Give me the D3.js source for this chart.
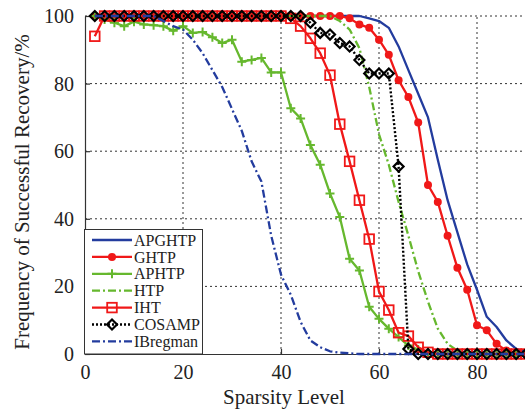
<!DOCTYPE html>
<html>
<head>
<meta charset="utf-8">
<script src="https://cdn.jsdelivr.net/npm/d3@7"></script>
<style>
body { margin: 0; background: #fff; }
svg { display: block; }
text { font-family: "Liberation Serif", "Times New Roman", serif; fill: #222; }
</style>
</head>
<body>
<svg id="chart" width="525" height="417"></svg>
<script>
// sparsity levels (x)
const sparsity = [2,4,6,8,10,12,14,16,18,20,22,24,26,28,30,32,34,36,38,40,42,44,46,48,50,52,54,56,58,60,62,64,66,68,70,72,74,76,78,80,82,84,86,88,90];

// frequency of successful recovery, %
const apghtp = [100,100,100,100,100,100,100,100,100,100,100,100,100,100,100,100,100,100,100,100,100,100,100,100,100,100,100,100,99.3,98.5,96.5,91,84,77,70,57.5,45.5,36,26.5,19,11,8,4,1.5,0.5];
const ghtp = [100,100,100,100,100,100,100,100,100,100,100,100,100,100,100,100,100,100,100,100,100,100,100,100,100,100,99.3,97.5,96.5,93,88.5,81,76,68.5,50,45,35,25.5,19,8.5,7,3,1,0.3,0];
const aphtp = [100,99,98,97,98.3,97.5,97.3,97,95.6,97,95,95.3,93.7,92,93,86.5,87,87.6,83.3,83.3,72.7,69.7,61.8,56,47.5,40.5,28.2,24.7,14,10.4,7.5,5,2.5,1.3,0.5,0,0,0,0,0,0,0,0,0,0];
const htp = [100,100,100,100,100,100,100,100,100,100,100,100,100,100,100,100,100,100,100,100,100,100,100,100,100,98.5,96,90.5,79,65,56,45,35,24.5,15.5,7.5,3,1,0.3,0,0,0,0,0,0];
const iht = [94,100,100,100,100,100,100,100,100,100,100,100,100,100,100,100,100,100,100,100,99.3,97,93.4,89,82.5,68,57,45.5,34,18.5,13,6.3,5.3,2,0.5,0,0,0,0,0,0,0,0,0,0];
const cosamp = [100,100,100,100,100,100,100,100,100,100,100,100,100,100,100,100,100,100,100,100,100,100,98,95,94.5,92,91,87,83,83,83,55.5,1.5,0,0,0,0,0,0,0,0,0,0,0,0];
const ibregman = [100,100,100,100,100,100,100,98.5,97,96,93,89,84,79,72.5,66,57,51,35,23.5,17.5,9.5,4,2,0.8,0.4,0.2,0,0,0,0,0,0,0,0,0,0,0,0,0,0,0,0,0,0];

const xTicks = [0,20,40,60,80];
const yTicks = [0,20,40,60,80,100];

const blue = "#233c9e", red = "#f01818", green = "#66b82e";

const series = [
  {name: "APGHTP",   values: apghtp,   color: blue,  dash: null,        width: 2.3, marker: null},
  {name: "GHTP",     values: ghtp,     color: red,   dash: null,        width: 2.3, marker: "circle"},
  {name: "APHTP",    values: aphtp,    color: green, dash: null,        width: 2.3, marker: "plus"},
  {name: "HTP",      values: htp,      color: green, dash: "8,3,2,3",   width: 2.3, marker: null},
  {name: "IHT",      values: iht,      color: red,   dash: null,        width: 2.3, marker: "square"},
  {name: "COSAMP",   values: cosamp,   color: "#000",dash: "2,2",       width: 2.4, marker: "diamond"},
  {name: "IBregman", values: ibregman, color: blue,  dash: "8,3,2,3",   width: 2.3, marker: null}
];

const svg = d3.select("#chart");
const x = d3.scaleLinear().domain([0, 90]).range([85, 526]);
const y = d3.scaleLinear().domain([0, 100]).range([354, 16]);

// grid
const grid = svg.append("g").attr("stroke", "#333").attr("stroke-width", 1).attr("stroke-dasharray", "2,3");
grid.selectAll(".gx").data(xTicks.filter(d => d > 0)).join("line")
  .attr("x1", d => x(d)).attr("x2", d => x(d)).attr("y1", y(0)).attr("y2", y(100));
grid.selectAll(".gy").data(yTicks.filter(d => d > 0)).join("line")
  .attr("x1", x(0)).attr("x2", x(90)).attr("y1", d => y(d)).attr("y2", d => y(d));

// axes
const xAxis = svg.append("g").attr("transform", `translate(0,${y(0)})`)
  .call(d3.axisBottom(x).tickValues(xTicks).tickSize(-5).tickSizeOuter(0).tickPadding(11));
const yAxis = svg.append("g").attr("transform", `translate(${x(0)},0)`)
  .call(d3.axisLeft(y).tickValues(yTicks).tickSize(-5).tickSizeOuter(0).tickPadding(11));
[xAxis, yAxis].forEach(a => {
  a.attr("font-family", null);
  a.selectAll("path,line").attr("stroke", "#333").attr("stroke-width", 1.2);
  a.selectAll("text").attr("font-size", 20).attr("fill", "#222")
    .style("font-family", '"Liberation Serif", "Times New Roman", serif');
});

// symbols
function drawMarker(g, type, color, cx, cy) {
  if (type === "circle") {
    g.append("circle").attr("cx", cx).attr("cy", cy).attr("r", 4).attr("fill", color);
  } else if (type === "plus") {
    g.append("path").attr("d", `M${cx-4.5},${cy}H${cx+4.5}M${cx},${cy-4.5}V${cy+4.5}`)
      .attr("stroke", color).attr("stroke-width", 2).attr("fill", "none");
  } else if (type === "square") {
    g.append("rect").attr("x", cx-4.8).attr("y", cy-4.8).attr("width", 9.6).attr("height", 9.6)
      .attr("stroke", color).attr("stroke-width", 1.8).attr("fill", "none");
  } else if (type === "diamond") {
    g.append("path").attr("d", `M${cx},${cy-5}L${cx+5},${cy}L${cx},${cy+5}L${cx-5},${cy}Z`)
      .attr("stroke", color).attr("stroke-width", 2.2).attr("fill", "none");
  }
}

const line = d3.line().x(d => x(d[0])).y(d => y(d[1]));

series.forEach(s => {
  const pts = sparsity.map((v, i) => [v, s.values[i]]);
  const g = svg.append("g");
  g.append("path").datum(pts).attr("d", line)
    .attr("fill", "none").attr("stroke", s.color).attr("stroke-width", s.width)
    .attr("stroke-dasharray", s.dash).attr("stroke-linejoin", "round");
  if (s.marker) pts.forEach(p => drawMarker(g, s.marker, s.color, x(p[0]), y(p[1])));
});

// axis titles
svg.append("text").attr("x", 284).attr("y", 404).attr("text-anchor", "middle")
  .attr("font-size", 21).text("Sparsity Level");
svg.append("text").attr("transform", "translate(29,192) rotate(-90)").attr("text-anchor", "middle")
  .attr("font-size", 21).text("Frequency of Successful Recovery/%");

// legend
const lg = svg.append("g");
lg.append("rect").attr("x", 84.5).attr("y", 229.5).attr("width", 118).attr("height", 124.5)
  .attr("fill", "#fff").attr("stroke", "#333").attr("stroke-width", 1);
series.forEach((s, i) => {
  const ly = 240 + i * 16.9;
  lg.append("line").attr("x1", 92).attr("x2", 132).attr("y1", ly).attr("y2", ly)
    .attr("stroke", s.color).attr("stroke-width", s.width).attr("stroke-dasharray", s.dash);
  if (s.marker) drawMarker(lg, s.marker, s.color, 112, ly);
  lg.append("text").attr("x", 134).attr("y", ly).attr("dy", "0.35em")
    .attr("font-size", 16).text(s.name);
});
</script>
</body>
</html>
